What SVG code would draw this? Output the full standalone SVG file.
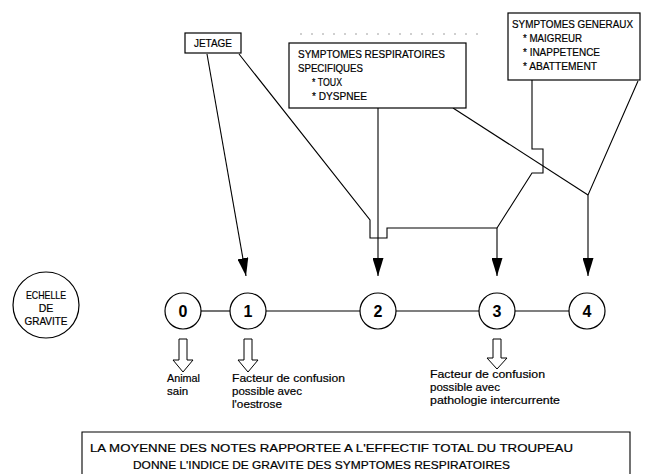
<svg xmlns="http://www.w3.org/2000/svg" width="652" height="474" viewBox="0 0 652 474">
  <defs>
    <marker id="head" markerUnits="userSpaceOnUse" markerWidth="18" markerHeight="11" refX="18" refY="5.5" orient="auto" viewBox="0 0 18 11">
      <path d="M0,0 L18,5.5 L0,11 Z" fill="#000"/>
    </marker>
    <style>
      text { font-family: "Liberation Sans", Arial, sans-serif; fill: #000; stroke: #000; stroke-width: 0.2; }
      .box { fill: #fff; stroke: #000; stroke-width: 1.2; }
      .cap { font-size: 10.5px; }
      .note { font-size: 11.5px; }
      .num { font-size: 16px; font-weight: bold; text-anchor: middle; stroke-width: 0; }
      .ring { fill: #fff; stroke: #000; stroke-width: 1.2; }
      .wire { fill: none; stroke: #000; stroke-width: 1.1; }
      .hollow { fill: #fff; stroke: #000; stroke-width: 1; }
    </style>
  </defs>

  <rect width="652" height="474" fill="#fff"/>

  <!-- faint dotted line above the respiratory box -->
  <line x1="300" y1="34" x2="478" y2="34" stroke="#888" stroke-width="0.8" stroke-dasharray="2 9"/>

  <!-- connectors -->
  <g id="connectors" class="wire">
    <line x1="207" y1="54" x2="246" y2="276" marker-end="url(#head)"/>
    <polyline points="239,54 370,220 370,238 387,238 387,228 497,228 497,276" marker-end="url(#head)"/>
    <line x1="378" y1="108" x2="378" y2="276" marker-end="url(#head)"/>
    <line x1="453" y1="108" x2="588" y2="195"/>
    <polyline points="638,81 588,195 588,276" marker-end="url(#head)"/>
    <polyline points="532,80 532,149 543,149 543,173 532,173 497,228"/>
    <!-- scale line -->
    <line x1="201" y1="311" x2="230" y2="311"/>
    <line x1="266" y1="311" x2="360" y2="311"/>
    <line x1="396" y1="311" x2="479" y2="311"/>
    <line x1="515" y1="311" x2="569" y2="311"/>
  </g>

  <!-- source boxes -->
  <g id="jetage">
    <rect class="box" x="185" y="33" width="56" height="20"/>
    <text class="cap" x="213" y="47" text-anchor="middle" textLength="38" lengthAdjust="spacingAndGlyphs">JETAGE</text>
  </g>

  <g id="respiratoires">
    <rect class="box" x="289" y="43" width="177" height="65"/>
    <text class="cap" x="298" y="58" textLength="147" lengthAdjust="spacingAndGlyphs">SYMPTOMES RESPIRATOIRES</text>
    <text class="cap" x="298" y="72" textLength="65" lengthAdjust="spacingAndGlyphs">SPECIFIQUES</text>
    <text class="cap" x="312" y="86" textLength="30" lengthAdjust="spacingAndGlyphs">* TOUX</text>
    <text class="cap" x="312" y="100" textLength="55" lengthAdjust="spacingAndGlyphs">* DYSPNEE</text>
  </g>

  <g id="generaux">
    <rect class="box" x="508" y="13" width="132" height="67"/>
    <text class="cap" x="512" y="28" textLength="121" lengthAdjust="spacingAndGlyphs">SYMPTOMES GENERAUX</text>
    <text class="cap" x="523" y="42" textLength="59" lengthAdjust="spacingAndGlyphs">* MAIGREUR</text>
    <text class="cap" x="523" y="56" textLength="77" lengthAdjust="spacingAndGlyphs">* INAPPETENCE</text>
    <text class="cap" x="523" y="70" textLength="74" lengthAdjust="spacingAndGlyphs">* ABATTEMENT</text>
  </g>

  <!-- scale title -->
  <g id="echelle">
    <circle class="ring" cx="46" cy="305" r="33"/>
    <text class="cap" x="46" y="299" text-anchor="middle" textLength="40" lengthAdjust="spacingAndGlyphs">ECHELLE</text>
    <text class="cap" x="46" y="312" text-anchor="middle">DE</text>
    <text class="cap" x="46" y="325" text-anchor="middle" textLength="43" lengthAdjust="spacingAndGlyphs">GRAVITE</text>
  </g>

  <!-- grades -->
  <g id="grade0">
    <circle class="ring" cx="183" cy="311" r="18"/>
    <text class="num" x="183" y="317">0</text>
  </g>
  <g id="grade1">
    <circle class="ring" cx="248" cy="311" r="18"/>
    <text class="num" x="248" y="317">1</text>
  </g>
  <g id="grade2">
    <circle class="ring" cx="378" cy="311" r="18"/>
    <text class="num" x="378" y="317">2</text>
  </g>
  <g id="grade3">
    <circle class="ring" cx="497" cy="311" r="18"/>
    <text class="num" x="497" y="317">3</text>
  </g>
  <g id="grade4">
    <circle class="ring" cx="587" cy="311" r="18"/>
    <text class="num" x="587" y="317">4</text>
  </g>

  <!-- hollow arrows below grades -->
  <g id="note0">
    <path class="hollow" d="M179,339 V360 H173 L183,372 L193,360 H187 V339 Z"/>
    <text class="note" x="167" y="382" textLength="33" lengthAdjust="spacingAndGlyphs">Animal</text>
    <text class="note" x="167" y="395">sain</text>
  </g>
  <g id="note1">
    <path class="hollow" d="M244,339 V360 H238 L248,372 L258,360 H252 V339 Z"/>
    <text class="note" x="232" y="382" textLength="113" lengthAdjust="spacingAndGlyphs">Facteur de confusion</text>
    <text class="note" x="232" y="395" textLength="70" lengthAdjust="spacingAndGlyphs">possible avec</text>
    <text class="note" x="232" y="408" textLength="50" lengthAdjust="spacingAndGlyphs">l'oestrose</text>
  </g>
  <g id="note3">
    <path class="hollow" d="M493,339 V358 H487 L497,369 L507,358 H501 V339 Z"/>
    <text class="note" x="430" y="378" textLength="115" lengthAdjust="spacingAndGlyphs">Facteur de confusion</text>
    <text class="note" x="430" y="391" textLength="70" lengthAdjust="spacingAndGlyphs">possible avec</text>
    <text class="note" x="430" y="404" textLength="130" lengthAdjust="spacingAndGlyphs">pathologie intercurrente</text>
  </g>

  <!-- summary box -->
  <g id="moyenne">
    <path d="M82,480 V432 H630 V480" fill="#fff" stroke="#000" stroke-width="1.1"/>
    <text class="note" x="90" y="452" textLength="483" lengthAdjust="spacingAndGlyphs">LA MOYENNE DES NOTES RAPPORTEE A L'EFFECTIF TOTAL DU TROUPEAU</text>
    <text class="note" x="133" y="469" textLength="377" lengthAdjust="spacingAndGlyphs">DONNE L'INDICE DE GRAVITE DES SYMPTOMES RESPIRATOIRES</text>
  </g>
</svg>
